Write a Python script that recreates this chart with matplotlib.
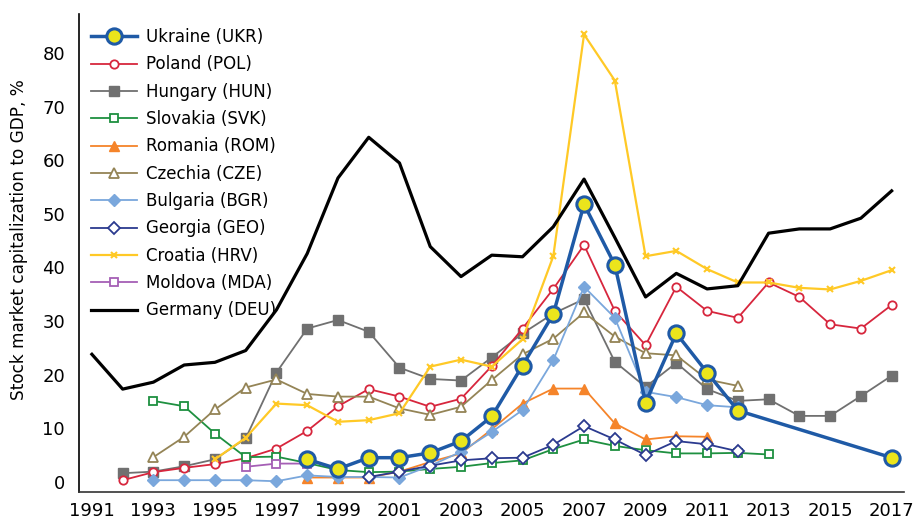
import numpy as np
import matplotlib
matplotlib.use('Agg')
import matplotlib.pyplot as plt

plt.rcParams['font.family'] = ['DejaVu Sans']

# Stock market capitalization to GDP, %
anos_ukr = [1998, 1999, 2000, 2001, 2002, 2003, 2004, 2005, 2006, 2007, 2008, 2009, 2010, 2011, 2012, 2017]
ukr = [4.2, 2.4, 4.5, 4.5, 5.4, 7.6, 12.2, 21.7, 31.3, 51.8, 40.5, 14.8, 27.7, 20.4, 13.3, 4.5]

anos_pol = list(range(1992, 2018))
pol = [0.3, 1.8, 2.6, 3.3, 4.4, 6.2, 9.5, 14.1, 17.3, 15.9, 14.0, 15.5, 21.6, 28.6, 36.0,
       44.2, 31.9, 25.5, 36.4, 31.9, 30.6, 37.2, 34.5, 29.4, 28.6, 33.0]

anos_hun = list(range(1992, 2018))
hun = [1.6, 1.9, 2.9, 4.2, 8.1, 20.4, 28.6, 30.2, 28.0, 21.3, 19.2, 18.9, 23.2, 27.7, 31.4,
       34.1, 22.4, 17.7, 22.2, 17.3, 15.1, 15.4, 12.3, 12.3, 16.0, 19.8]

anos_svk = list(range(1993, 2014))
svk = [15.1, 14.1, 9.0, 4.6, 4.7, 3.5, 2.2, 1.8, 1.9, 2.4, 2.8, 3.5, 4.0, 6.1, 7.9, 6.7,
       5.9, 5.3, 5.3, 5.4, 5.1]

anos_rom = list(range(1998, 2012))
rom = [0.8, 0.8, 0.8, 1.9, 3.7, 5.3, 9.8, 14.6, 17.4, 17.4, 10.9, 7.9, 8.5, 8.4]

anos_cze = list(range(1993, 2013))
cze = [4.6, 8.4, 13.5, 17.6, 19.1, 16.4, 15.9, 15.9, 13.7, 12.5, 14.0, 19.0, 23.8, 26.7,
       31.6, 27.1, 24.0, 23.6, 19.1, 17.9]

anos_bgr = list(range(1993, 2013))
bgr = [0.3, 0.3, 0.3, 0.3, 0.1, 1.2, 0.9, 0.9, 0.8, 3.0, 5.6, 9.3, 13.4, 22.7, 36.4, 30.6,
       16.8, 15.8, 14.3, 13.9]

anos_geo = list(range(2000, 2013))
geo = [0.9, 1.9, 3.0, 4.0, 4.4, 4.5, 6.9, 10.4, 7.9, 5.0, 7.6, 7.0, 5.7]

anos_hrv = list(range(1995, 2018))
hrv = [4.2, 8.2, 14.6, 14.3, 11.2, 11.5, 12.8, 21.5, 22.8, 21.5, 26.6, 42.1, 83.5, 74.9,
       42.1, 43.1, 39.7, 37.2, 37.2, 36.2, 35.9, 37.5, 39.5]

anos_mda = [1996, 1997, 1998]
mda = [2.8, 3.4, 3.4]

anos_deu = list(range(1991, 2018))
deu = [23.8, 17.3, 18.6, 21.8, 22.3, 24.5, 32.1, 42.6, 56.7, 64.3, 59.5, 43.9, 38.3, 42.3,
       42.0, 47.6, 56.5, 45.6, 34.5, 38.9, 36.0, 36.6, 46.4, 47.2, 47.2, 49.2, 54.3]

fig = plt.figure(figsize=(9.14, 5.21), dpi=100)
ax = fig.add_axes([0.0864, 0.0557, 0.9026, 0.9173])

lw = 1.3
ax.plot(anos_ukr, ukr, color='#1f5aa6', lw=2.5, marker='o', markersize=11,
        markerfacecolor='#ebe51c', markeredgecolor='#1f5aa6', markeredgewidth=2.2,
        label='Ukraine (UKR)', zorder=10)
ax.plot(anos_pol, pol, color='#d7263d', lw=lw, marker='o', markersize=6,
        markerfacecolor='white', markeredgewidth=1.3, label='Poland (POL)', zorder=5)
ax.plot(anos_hun, hun, color='#707070', lw=lw, marker='s', markersize=7,
        label='Hungary (HUN)', zorder=4)
ax.plot(anos_svk, svk, color='#1e9040', lw=lw, marker='s', markersize=6,
        markerfacecolor='white', markeredgewidth=1.3, label='Slovakia (SVK)', zorder=5)
ax.plot(anos_rom, rom, color='#f5842a', lw=lw, marker='^', markersize=7,
        label='Romania (ROM)', zorder=5)
ax.plot(anos_cze, cze, color='#948456', lw=lw, marker='^', markersize=7,
        markerfacecolor='white', markeredgewidth=1.3, label='Czechia (CZE)', zorder=5)
ax.plot(anos_bgr, bgr, color='#7aa7dc', lw=lw, marker='D', markersize=6,
        label='Bulgaria (BGR)', zorder=5)
ax.plot(anos_geo, geo, color='#2b3a8f', lw=lw, marker='D', markersize=6,
        markerfacecolor='white', markeredgewidth=1.3, label='Georgia (GEO)', zorder=5)
ax.plot(anos_hrv, hrv, color='#ffc926', lw=1.6, marker='x', markersize=5,
        markeredgewidth=1.5, label='Croatia (HRV)', zorder=5)
ax.plot(anos_mda, mda, color='#a55fb5', lw=lw, marker='s', markersize=6,
        markerfacecolor='white', markeredgewidth=1.3, label='Moldova (MDA)', zorder=5)
ax.plot(anos_deu, deu, color='black', lw=2.3, label='Germany (DEU)', zorder=6)

ax.set_xlim(1990.58, 2017.4)
ax.set_ylim(-1.9, 87.3)
ax.set_xticks(range(1991, 2018, 2))
ax.set_yticks(range(0, 81, 10))
ax.tick_params(axis='both', length=0, labelsize=13)
ax.tick_params(axis='x', pad=7)
ax.tick_params(axis='y', pad=10)
ax.set_ylabel('Stock market capitalization to GDP, %', fontsize=12.2)
ax.yaxis.set_label_coords(-0.062, 0.527)

for lado in ['top', 'right']:
    ax.spines[lado].set_visible(False)
ax.spines['left'].set_color('black')
ax.spines['bottom'].set_color('#333333')
ax.spines['left'].set_linewidth(1.2)
ax.spines['bottom'].set_linewidth(1.2)

leg = ax.legend(loc='upper left', bbox_to_anchor=(0.0, 0.995), frameon=False, fontsize=12,
                handlelength=2.8, handletextpad=0.55, labelspacing=0.56, borderaxespad=0.3)
leg.set_zorder(20)

fig.savefig('out.png', dpi=100)
